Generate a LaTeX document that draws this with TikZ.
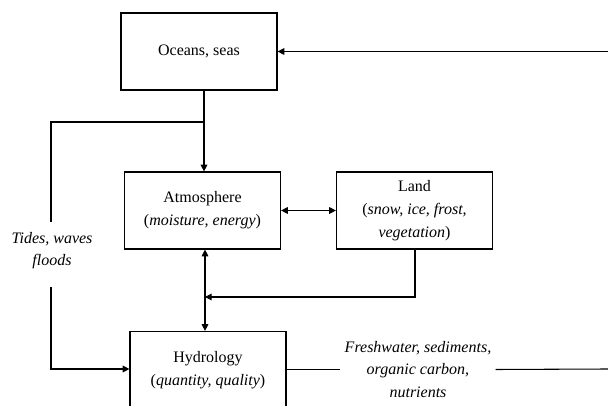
\documentclass[tikz,border=0pt]{standalone}
\usepackage{fontspec}
\setmainfont{Liberation Serif}
\usetikzlibrary{arrows.meta}
\begin{document}
\begin{tikzpicture}[x=0.75pt,y=-0.75pt,
  box/.style={draw, line width=0.9pt, minimum width=117pt, minimum height=57.75pt, align=center, inner sep=0pt, font=\fontsize{12}{17}\selectfont},
  lbl/.style={align=center, inner sep=3pt, font=\fontsize{12}{17}\selectfont\itshape},
  conn/.style={line width=0.8pt},
  arr/.style={-{Triangle[length=5pt,width=5pt]}},
  darr/.style={{Triangle[length=5pt,width=5pt]}-{Triangle[length=5pt,width=5pt]}}]
\useasboundingbox (0,0) rectangle (608,406);
\node[box] (oceans) at (199,51.5) {Oceans, seas};
\node[box] (atm) at (202.5,210.5) {Atmosphere\\(\textit{moisture, energy})};
\node[box] (land) at (414.5,210.5) {Land\\(\textit{snow, ice, frost,}\\\textit{vegetation})};
\node[box] (hyd) at (208,370) {Hydrology\\(\textit{quantity, quality})};
\node[lbl] (tides) at (52,250.5) {Tides, waves\\floods};
\node[lbl] (fresh) at (418,369.5) {Freshwater, sediments,\\organic carbon,\\nutrients};
\coordinate (R1) at (608,51.5);
\coordinate (J1) at (204,122);
\coordinate (L1) at (51,122);
\coordinate (t1) at (51,222);
\coordinate (t2) at (51,287);
\coordinate (L2) at (51,369);
\coordinate (V) at (205,297);
\coordinate (K) at (415,297);
\coordinate (R2) at (608,369);
% right feed into oceans
\draw[conn,arr] (R1) -- (oceans.east);
% oceans down
\draw[conn] (oceans.south -| J1) -- (J1) -- (L1) -- (t1);
\draw[conn,arr] (J1) -- (J1 |- atm.north);
\draw[conn,arr] (t2) -- (L2) -- (L2 -| hyd.west);
% atmosphere - land
\draw[conn,darr] (atm.east) -- (land.west);
% atmosphere - hydrology
\draw[conn,darr] (atm.south -| V) -- (hyd.north -| V);
% land down to vertical
\draw[conn,arr] (land.south -| K) -- (K) -- (V);
% hydrology right
\draw[conn] (hyd.east |- fresh.west) -- (fresh.west);
\draw[conn] (fresh.east) -- (R2);
\end{tikzpicture}
\end{document}
